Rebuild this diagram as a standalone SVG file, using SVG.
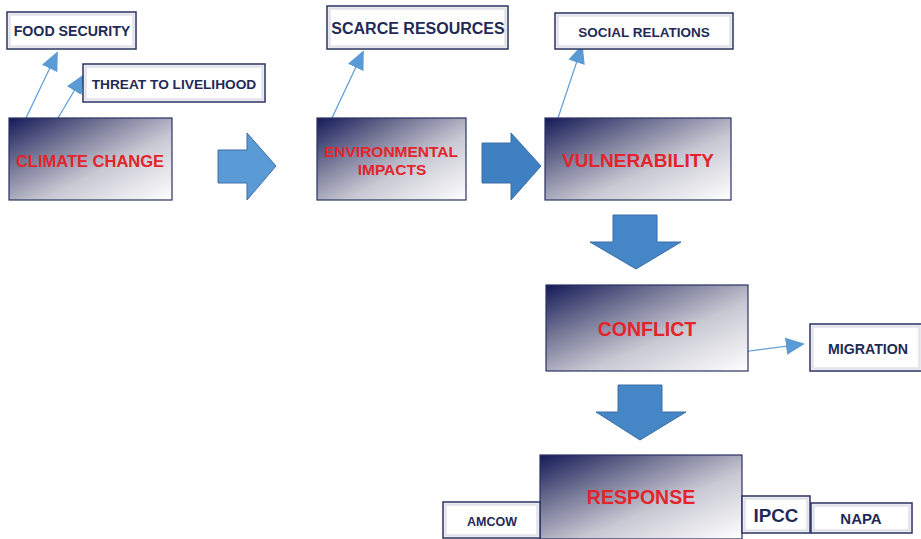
<svg xmlns="http://www.w3.org/2000/svg" width="921" height="539" viewBox="0 0 921 539">
  <defs>
    <linearGradient id="shade" x1="0" y1="0" x2="1" y2="1">
      <stop offset="0" stop-color="#141a58"/>
      <stop offset="0.28" stop-color="#6c6e90"/>
      <stop offset="0.6" stop-color="#c8c8d3"/>
      <stop offset="1" stop-color="#ffffff"/>
    </linearGradient>
    <marker id="head" viewBox="0 0 10 10" refX="9" refY="5" markerWidth="19" markerHeight="19" markerUnits="userSpaceOnUse" orient="auto">
      <path d="M0,0.5 L10,5 L0,9.5 Z" fill="#5b9bd5"/>
    </marker>
  </defs>
  <style>
    .main rect { fill: url(#shade); stroke: #2a3162; stroke-width: 1.2; }
    .main text { font-family: "Liberation Sans", Arial, sans-serif; font-weight: bold; fill: #e3242b; text-anchor: middle; }
    .tag .outer { fill: #ffffff; stroke: #2a3162; stroke-width: 1.5; }
    .tag .inner { fill: none; stroke: #e2e2ea; stroke-width: 2.5; }
    .tag text { font-family: "Liberation Sans", Arial, sans-serif; font-weight: bold; fill: #1f2a58; text-anchor: middle; }
    .flow { stroke: #3a6fa8; stroke-width: 1; }
    .link { stroke: #5b9bd5; stroke-width: 1.2; fill: none; marker-end: url(#head); }
  </style>

  <!-- connectors -->
  <g id="connectors">
    <polygon class="flow" fill="#5b9bd5" points="218,150 247,150 247,133 276,166 247,200 247,183 218,183"/>
    <polygon class="flow" fill="#3f80c2" points="482,143 511,143 511,133 541,166 511,200 511,183 482,183"/>
    <polygon class="flow" fill="#4586c6" points="613,215 657,215 657,242 681,242 636,269 590,242 613,242"/>
    <polygon class="flow" fill="#4586c6" points="618,385 662,385 662,412 686,412 640,440 596,412 618,412"/>
    <line class="link" x1="26" y1="118" x2="57" y2="53"/>
    <line class="link" x1="58" y1="118" x2="83" y2="76"/>
    <line class="link" x1="332" y1="118" x2="363" y2="52"/>
    <line class="link" x1="558" y1="118" x2="582" y2="46"/>
    <line class="link" x1="742" y1="352" x2="803" y2="344"/>
  </g>

  <!-- main stages -->
  <g id="climate-change" class="main">
    <rect x="9" y="118" width="163" height="82"/>
    <text x="90" y="167" font-size="16.5">CLIMATE CHANGE</text>
  </g>
  <g id="environmental-impacts" class="main">
    <rect x="317" y="118" width="149" height="82"/>
    <text x="391" y="157" font-size="15.5">ENVIRONMENTAL</text>
    <text x="392" y="175" font-size="15.5">IMPACTS</text>
  </g>
  <g id="vulnerability" class="main">
    <rect x="545" y="118" width="186" height="82"/>
    <text x="638" y="167" font-size="19">VULNERABILITY</text>
  </g>
  <g id="conflict" class="main">
    <rect x="546" y="285" width="202" height="86"/>
    <text x="647" y="336" font-size="19.5">CONFLICT</text>
  </g>
  <g id="response" class="main">
    <rect x="540" y="455" width="202" height="84"/>
    <text x="641" y="504" font-size="19.5">RESPONSE</text>
  </g>

  <!-- side labels -->
  <g id="food-security" class="tag">
    <rect class="outer" x="7" y="12" width="129" height="37"/>
    <rect class="inner" x="9.5" y="14.5" width="124" height="32"/>
    <text x="72" y="36" font-size="14.2">FOOD SECURITY</text>
  </g>
  <g id="threat-to-livelihood" class="tag">
    <rect class="outer" x="83" y="64" width="182" height="38"/>
    <rect class="inner" x="85.5" y="66.5" width="177" height="33"/>
    <text x="174" y="89" font-size="13.7">THREAT TO LIVELIHOOD</text>
  </g>
  <g id="scarce-resources" class="tag">
    <rect class="outer" x="327" y="6" width="181" height="43"/>
    <rect class="inner" x="329.5" y="8.5" width="176" height="38"/>
    <text x="418" y="34" font-size="16">SCARCE RESOURCES</text>
  </g>
  <g id="social-relations" class="tag">
    <rect class="outer" x="555" y="13" width="178" height="36"/>
    <rect class="inner" x="557.5" y="15.5" width="173" height="31"/>
    <text x="644" y="37" font-size="13.5">SOCIAL RELATIONS</text>
  </g>
  <g id="migration" class="tag">
    <rect class="outer" x="810" y="324" width="112" height="47"/>
    <rect class="inner" x="812.5" y="326.5" width="107" height="42"/>
    <text x="868" y="354" font-size="14.2">MIGRATION</text>
  </g>
  <g id="amcow" class="tag">
    <rect class="outer" x="443" y="502" width="97" height="36"/>
    <rect class="inner" x="445.5" y="504.5" width="92" height="31"/>
    <text x="492" y="526" font-size="12.5">AMCOW</text>
  </g>
  <g id="ipcc" class="tag">
    <rect class="outer" x="742" y="496" width="68" height="37"/>
    <rect class="inner" x="744.5" y="498.5" width="63" height="32"/>
    <text x="776" y="522" font-size="18.8">IPCC</text>
  </g>
  <g id="napa" class="tag">
    <rect class="outer" x="811" y="503" width="101" height="30"/>
    <rect class="inner" x="813.5" y="505.5" width="96" height="25"/>
    <text x="861" y="524" font-size="15">NAPA</text>
  </g>
</svg>
